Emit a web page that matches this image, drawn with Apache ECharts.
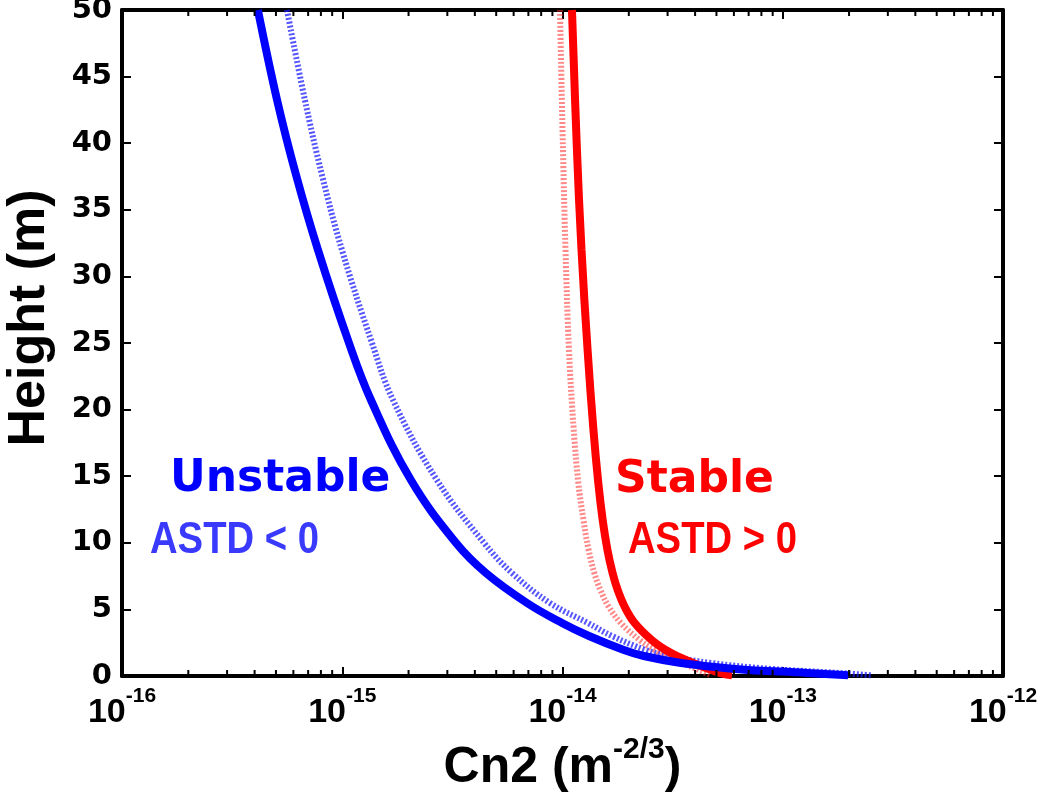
<!DOCTYPE html>
<html>
<head>
<meta charset="utf-8">
<script src="https://cdn.jsdelivr.net/npm/echarts@6/dist/echarts.min.js"></script>
<style>
  html, body { margin: 0; background: #fff; }
  #chart { width: 1045px; height: 792px; }
</style>
</head>
<body>
<div id="chart"></div>
<script>
// heights (m) and Cn2 values
const unstableH      = [50, 43.24, 37.61, 31.98, 25, 20.72, 14.71, 10, 7.73, 5.48, 3.98, 3.0, 1.95, 1.5, 0.98, 0.53, 0.23, 0.05]
const unstableSolid  = [4.14e-16, 5.06e-16, 6.17e-16, 7.76e-16, 1.073e-15, 1.35e-15, 2.05e-15, 3.28e-15, 4.49e-15, 6.9e-15, 9.95e-15, 1.319e-14, 1.9e-14, 2.34e-14, 3.45e-14, 6.07e-14, 1.29e-13, 1.98e-13]
const unstableDashed = [5.61e-16, 6.77e-16, 8.09e-16, 9.97e-16, 1.365e-15, 1.7e-15, 2.69e-15, 4.4e-15, 5.9e-15, 8.77e-15, 1.305e-14, 1.68e-14, 2.39e-14, 3.04e-14, 4.72e-14, 8.84e-14, 1.8e-13, 2.52e-13]

const stableH      = [50, 39.49, 31.98, 24.47, 18.47, 14.49, 11.71, 9.46, 7.73, 6.46, 5.18, 3.98, 2.7, 1.95, 1.43, 0.83, 0.23, 0.05]
const stableSolid  = [1.104e-14, 1.163e-14, 1.22e-14, 1.3e-14, 1.382e-14, 1.454e-14, 1.522e-14, 1.6e-14, 1.688e-14, 1.78e-14, 1.918e-14, 2.127e-14, 2.54e-14, 2.94e-14, 3.38e-14, 4.12e-14, 5.19e-14, 5.88e-14]
const stableDashed = [9.74e-15, 1.005e-14, 1.032e-14, 1.07e-14, 1.125e-14, 1.18e-14, 1.245e-14, 1.314e-14, 1.395e-14, 1.486e-14, 1.624e-14, 1.84e-14, 2.24e-14, 2.62e-14, 3.01e-14, 3.65e-14, 4.46e-14, 4.72e-14]

const decades = [-16, -15, -14, -13]
const minorTicks = []
decades.forEach(e => {
  for (let m = 2; m <= 9; m++) minorTicks.push(m * Math.pow(10, e))
})

const zip = (xs, hs) => xs.map((v, i) => [v, hs[i]])

const chart = echarts.init(document.getElementById('chart'))

const frameAxisLine = { show: true, onZero: false, lineStyle: { color: '#000', width: 4 } }
const frameTick = { inside: true, length: 9, lineStyle: { color: '#000', width: 2 } }
const boldSans = 'Liberation Sans'

chart.setOption({
  animation: false,
  grid: { left: 122, right: 42, top: 10, bottom: 116, containLabel: false, outerBoundsMode: 'none' },
  xAxis: [
    {
      type: 'log',
      logBase: 10,
      min: 1e-16,
      max: 1e-12,
      splitNumber: 4,
      position: 'bottom',
      axisLine: frameAxisLine,
      axisTick: frameTick,
      splitLine: { show: false },
      axisLabel: {
        margin: 10,
        formatter: v => '{b|10}{s|' + Math.round(Math.log10(v)) + '}',
        rich: {
          b: { fontFamily: boldSans, fontWeight: 'bold', fontSize: 34, color: '#000', verticalAlign: 'bottom', lineHeight: 44 },
          s: { fontFamily: boldSans, fontWeight: 'bold', fontSize: 21, color: '#000', verticalAlign: 'top', lineHeight: 44 }
        }
      },
      name: '{a|Cn2 (m}{s|-2/3}{a|)}',
      nameLocation: 'middle',
      nameGap: 36,
      nameTextStyle: {
        rich: {
          a: { fontFamily: boldSans, fontWeight: 'bold', fontSize: 50, color: '#000', verticalAlign: 'bottom', lineHeight: 58 },
          s: { fontFamily: boldSans, fontWeight: 'bold', fontSize: 30, color: '#000', verticalAlign: 'top', lineHeight: 58 }
        }
      }
    },
    {
      type: 'log',
      logBase: 10,
      min: 1e-16,
      max: 1e-12,
      splitNumber: 4,
      position: 'top',
      axisLine: frameAxisLine,
      axisTick: frameTick,
      axisLabel: { show: false },
      splitLine: { show: false }
    }
  ],
  yAxis: [
    {
      type: 'value',
      min: 0,
      max: 50,
      interval: 5,
      position: 'left',
      axisLine: frameAxisLine,
      axisTick: frameTick,
      splitLine: { show: false },
      axisLabel: {
        margin: 10,
        fontFamily: 'DejaVu Sans',
        fontWeight: 'bold',
        fontSize: 29,
        color: '#000'
      },
      name: 'Height (m)',
      nameLocation: 'middle',
      nameGap: 66,
      nameTextStyle: {
        fontFamily: boldSans,
        fontWeight: 'bold',
        fontSize: 52,
        color: '#000',
        padding: [0, 0, 0, 50]
      }
    },
    {
      type: 'value',
      min: 0,
      max: 50,
      interval: 5,
      position: 'right',
      axisLine: frameAxisLine,
      axisTick: frameTick,
      axisLabel: { show: false },
      splitLine: { show: false }
    }
  ],
  series: [
    {
      name: 'unstable dashed',
      type: 'line',
      smooth: 0.4,
      symbol: 'none',
      data: zip(unstableDashed, unstableH),
      lineStyle: { color: 'rgba(30,30,255,0.75)', width: 6, type: [2, 2] },
      z: 2
    },
    {
      name: 'stable dashed',
      type: 'line',
      smooth: 0.4,
      symbol: 'none',
      data: zip(stableDashed, stableH),
      lineStyle: { color: 'rgba(255,40,40,0.55)', width: 6, type: [2, 2] },
      z: 2
    },
    {
      name: 'stable',
      type: 'line',
      smooth: 0.4,
      symbol: 'none',
      data: zip(stableSolid, stableH),
      lineStyle: { color: '#ff0000', width: 8 },
      z: 3
    },
    {
      name: 'unstable',
      type: 'line',
      smooth: 0.4,
      symbol: 'none',
      data: zip(unstableSolid, unstableH),
      lineStyle: { color: '#0000ff', width: 8 },
      z: 3
    },
    {
      // minor log ticks on bottom and top edges
      type: 'custom',
      silent: true,
      clip: false,
      data: minorTicks.map(v => [v, 0]),
      renderItem(params, api) {
        const v = api.value(0)
        const b = api.coord([v, 0])
        const t = api.coord([v, 50])
        return {
          type: 'group',
          children: [
            { type: 'line', shape: { x1: b[0], y1: b[1], x2: b[0], y2: b[1] - 6 }, style: { stroke: '#000', lineWidth: 2 } },
            { type: 'line', shape: { x1: t[0], y1: t[1], x2: t[0], y2: t[1] + 6 }, style: { stroke: '#000', lineWidth: 2 } }
          ]
        }
      },
      z: 5
    }
  ],
  graphic: [
    { type: 'text', x: 170, y: 458, style: { text: 'Unstable', fill: '#0000ff', font: 'bold 44px "DejaVu Sans"' } },
    { type: 'text', x: 150, y: 518, scaleX: 0.85, style: { text: 'ASTD < 0', fill: '#3a3aff', font: 'bold 45px "Liberation Sans"' } },
    { type: 'text', x: 615, y: 459, style: { text: 'Stable', fill: '#ff0000', font: 'bold 44px "DejaVu Sans"' } },
    { type: 'text', x: 628, y: 518, scaleX: 0.85, style: { text: 'ASTD > 0', fill: '#ff0000', font: 'bold 45px "Liberation Sans"' } }
  ]
})
</script>
</body>
</html>
